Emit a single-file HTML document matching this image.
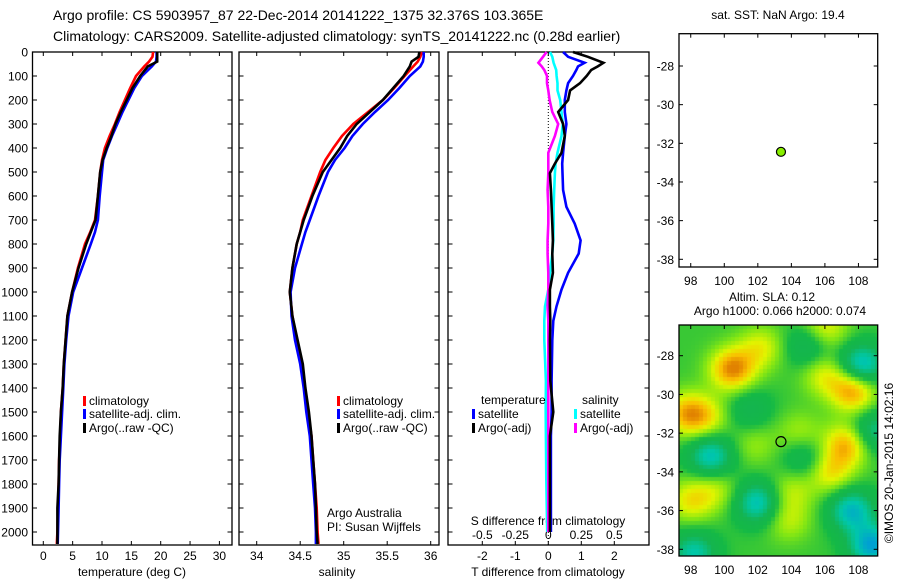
<!DOCTYPE html>
<html><head><meta charset="utf-8">
<style>
html,body{margin:0;padding:0;background:#fff;}
#wrap{position:relative;width:900px;height:580px;overflow:hidden;font-family:"Liberation Sans",sans-serif;}
svg text{font-family:"Liberation Sans",sans-serif;fill:#000;}
#map2{position:absolute;left:679px;top:325px;width:199px;height:231px;}
</style></head>
<body>
<div id="wrap">
<canvas id="map2" width="199" height="231"></canvas>
<svg id="chart" width="900" height="580" style="position:absolute;left:0;top:0"></svg>
</div>
<script>
// ---- data ----
const depthProf = [0,20,40,60,100,150,200,250,300,350,400,450,500,600,700,750,800,900,1000,1100,1200,1300,1400,1500,1600,1700,1800,1900,2000,2050];
const tempClim = [18.7,18.6,18.0,17.2,15.8,14.8,13.9,13.0,12.2,11.3,10.5,10.0,9.7,9.3,8.8,8.0,7.1,5.9,4.9,4.1,3.8,3.5,3.3,3.0,2.9,2.7,2.6,2.5,2.4,2.3];
const tempSat = [19.3,19.3,19.2,18.5,16.8,15.5,14.5,13.5,12.6,11.7,10.9,10.2,10.0,9.6,9.3,8.8,8.1,6.6,5.1,4.3,3.9,3.6,3.4,3.2,3.0,2.8,2.7,2.6,2.5,2.45];
const tempArgo = [19.4,19.4,19.4,17.8,16.5,15.2,14.2,13.2,12.3,11.6,10.8,10.1,9.7,9.3,8.9,8.1,7.3,6.0,4.9,4.1,3.8,3.5,3.3,3.0,2.8,2.7,2.6,2.4,2.4,2.4];
const salClim = [35.9,35.88,35.85,35.8,35.7,35.58,35.45,35.28,35.11,34.98,34.88,34.79,34.73,34.63,34.53,34.5,34.46,34.41,34.38,34.41,34.46,34.52,34.555,34.59,34.63,34.65,34.67,34.69,34.70,34.71];
const salSat = [35.92,35.92,35.91,35.88,35.76,35.64,35.51,35.36,35.22,35.1,35.01,34.9,34.82,34.71,34.61,34.56,34.52,34.44,34.39,34.40,34.44,34.50,34.54,34.57,34.61,34.63,34.65,34.67,34.68,34.68];
const salArgo = [35.87,35.86,35.78,35.76,35.69,35.57,35.45,35.3,35.15,35.04,34.96,34.86,34.76,34.64,34.54,34.5,34.46,34.41,34.38,34.41,34.47,34.53,34.56,34.6,34.63,34.65,34.67,34.68,34.69,34.7];
const diffDepth = [0,20,45,60,75,100,130,160,200,250,300,350,420,465,505,575,645,715,785,840,920,990,1060,1120,1200,1370,1500,1600,1780,2000];
const dTsat = [0.45,0.6,1.1,0.9,0.85,0.75,0.6,0.55,0.5,0.5,0.55,0.5,0.45,0.42,0.43,0.45,0.55,0.8,0.98,0.92,0.6,0.4,0.25,0.15,0.12,0.1,0.1,0.08,0.08,0.08];
const dTargo = [0.75,1.2,1.67,1.5,1.3,1.16,0.96,0.66,0.6,0.3,0.45,0.5,0.4,0.2,0.05,0.08,0.1,0.12,0.14,0.12,0.14,0.05,0.05,0.06,0.05,0.06,0.15,0.05,0.05,0.05];
const dSsat = [0.013,0.03,0.04,0.05,0.06,0.063,0.07,0.07,0.09,0.1,0.11,0.1,0.07,0.055,0.05,0.045,0.04,0.04,0.038,0.03,0.013,0.0,-0.025,-0.03,-0.03,-0.018,-0.02,-0.018,-0.015,-0.008];
const dSargo = [-0.013,-0.04,-0.075,-0.05,-0.03,-0.01,-0.01,0.0,0.01,0.03,0.075,0.05,0.0,0.0,0.0,-0.005,0.0,0.0,-0.005,-0.005,0.0,0.0,-0.005,0.0,0.0,0.0,0.0,0.0,0.0,0.0];
const depthTicks = [0,100,200,300,400,500,600,700,800,900,1000,1100,1200,1300,1400,1500,1600,1700,1800,1900,2000];
const tempTicks = [0,5,10,15,20,25,30];
const salTicks = [34,34.5,35,35.5,36];
const dTTicks = [-2,-1,0,1,2];
const dSTicks = [-0.5,-0.25,0,0.25,0.5];
const dSTickLabels = ["-0.5","-0.25","0","0.25","0.5"];
const latTicks = [-28,-30,-32,-34,-36,-38];
const lonTicks = [98,100,102,104,106,108];
const floatLon = [103.38];
const floatLat = [-32.44];
const slaLon = [100.5,102.2,107.7,106.0,97.8,99.0,107.3,106.3,106.0,98.0,99.5,103.8,104.5,104.0,108.2,99.2,102.0,107.6,108.8,98.2,108.9,105.0,101.5,104.8,101.8];
const slaLat = [-28.7,-27.6,-29.8,-29.0,-31.0,-31.2,-32.6,-34.0,-26.6,-35.5,-34.9,-36.5,-32.0,-35.0,-28.5,-33.2,-35.6,-36.0,-37.8,-38.2,-31.9,-27.5,-30.8,-33.3,-32.6];
const slaAmp = [0.9,0.45,0.85,0.45,0.7,0.4,0.75,0.55,0.5,0.5,0.35,0.35,0.3,0.35,-0.9,-0.8,-0.8,-0.85,-1.0,-0.7,-0.6,-0.45,-0.35,-0.4,0.25];

// ---- scales ----
const yD = d => 52 + d*0.24;
const xT = t => 43.3 + t*5.87;
const xS = s => 256.7 + (s-34)*87;
const xdT = v => 548.3 + v*33;
const xdS = v => 548.3 + v*132;
const mLon = v => 679 + (v-97.3)*16.77;
const mLat1 = v => 66 + (-28 - v)*19.33;
const mLat2 = v => 355.7 + (-28 - v)*19.36;

const NS='http://www.w3.org/2000/svg';
const svg=document.getElementById('chart');
function el(tag,attrs,parent){const e=document.createElementNS(NS,tag);for(const k in attrs)e.setAttribute(k,attrs[k]);(parent||svg).appendChild(e);return e;}
function txt(x,y,s,size,anchor,name){const t=el('text',{x:x,y:y,'font-size':size,'text-anchor':anchor||'start'});t.textContent=s;


return t;}
function frame(x0,y0,x1,y1,name){const r=el('rect',{x:x0,y:y0,width:x1-x0,height:y1-y0,fill:'none',stroke:'#000','stroke-width':1.3});

}
function line(x1,y1,x2,y2,name){const l=el('line',{x1:x1,y1:y1,x2:x2,y2:y2,stroke:'#000','stroke-width':1});

}
function series(xs,ds,xf,color,name,w){
  let pts=[];for(let i=0;i<xs.length;i++){pts.push(xf(xs[i]).toFixed(1)+','+yD(ds[i]).toFixed(1));}
  const p=el('polyline',{points:pts.join(' '),fill:'none',stroke:color,'stroke-width':w||2.6,'stroke-linejoin':'miter'});
  
  
}

// titles
txt(53,20,'Argo profile: CS 5903957_87 22-Dec-2014 20141222_1375 32.376S 103.365E',14,'start','title-line-1');
txt(53,41,'Climatology: CARS2009. Satellite-adjusted climatology: synTS_20141222.nc (0.28d earlier)',14,'start','title-line-2');

const Y0=52,Y1=545;
frame(32.5,Y0,232,Y1,'temperature-panel-frame');
frame(239,Y0,439,Y1,'salinity-panel-frame');
frame(448,Y0,649,Y1,'difference-panel-frame');
depthTicks.forEach(d=>{const y=yD(d);
  txt(28,y+4.5,String(d),12,'end','depth-tick-label');
  line(32.5,y,37,y,'depth-tick');line(227.5,y,232,y,'depth-tick');
  line(239,y,243.5,y,'depth-tick');line(434.5,y,439,y,'depth-tick');
  line(448,y,452.5,y,'depth-tick');line(644.5,y,649,y,'depth-tick');
});
tempTicks.forEach(t=>{const x=xT(t);line(x,Y0,x,Y0+4,'temp-tick');line(x,Y1,x,Y1-4,'temp-tick');txt(x,560,String(t),12,'middle','temp-tick-label');});
txt(132,576,'temperature (deg C)',12,'middle','temperature-axis-title');
salTicks.forEach(s=>{const x=xS(s);line(x,Y0,x,Y0+4,'sal-tick');line(x,Y1,x,Y1-4,'sal-tick');txt(x,560,String(s),12,'middle','sal-tick-label');});
txt(337,576,'salinity',12,'middle','salinity-axis-title');
dTTicks.forEach(v=>{const x=xdT(v);line(x,Y0,x,Y0+4,'dT-tick');line(x,Y1,x,Y1-4,'dT-tick');txt(x,560,String(v),12,'middle','dT-tick-label');});
txt(548,576,'T difference from climatology',12,'middle','t-difference-axis-title');
dSTicks.forEach((v,i)=>{const x=xdS(v);txt(x,539,dSTickLabels[i],12,'middle','dS-tick-label');});
txt(548,525,'S difference from climatology',12,'middle','s-difference-axis-title');

const zl=el('line',{x1:xdT(0),y1:Y0,x2:xdT(0),y2:Y1,stroke:'#000','stroke-width':1,'stroke-dasharray':'1,2'});



series(tempClim,depthProf,xT,'#ff0000','temp-climatology-line');
series(tempSat,depthProf,xT,'#0000ff','temp-satellite-line');
series(tempArgo,depthProf,xT,'#000000','temp-argo-line');
series(salClim,depthProf,xS,'#ff0000','sal-climatology-line');
series(salSat,depthProf,xS,'#0000ff','sal-satellite-line');
series(salArgo,depthProf,xS,'#000000','sal-argo-line');
series(dSsat,diffDepth,xdS,'#00ffff','dS-satellite-line');
series(dSargo,diffDepth,xdS,'#ff00ff','dS-argo-line');
series(dTsat,diffDepth,xdT,'#0000ff','dT-satellite-line');
series(dTargo,diffDepth,xdT,'#000000','dT-argo-line');

function legEntry(x,y,color,label,name){const r=el('rect',{x:x,y:y-9,width:3,height:10,fill:color});


txt(x+6,y,label,12,'start',name+'-label');}
legEntry(83,405,'#ff0000','climatology','legend-temp-climatology');
legEntry(83,418,'#0000ff','satellite-adj. clim.','legend-temp-satellite');
legEntry(83,432,'#000000','Argo(..raw -QC)','legend-temp-argo');
legEntry(337,405,'#ff0000','climatology','legend-sal-climatology');
legEntry(337,418,'#0000ff','satellite-adj. clim.','legend-sal-satellite');
legEntry(337,432,'#000000','Argo(..raw -QC)','legend-sal-argo');
txt(481,404,'temperature',12,'start','legend-temperature-heading');
legEntry(472,418,'#0000ff','satellite','legend-dT-satellite');
legEntry(472,432,'#000000','Argo(-adj)','legend-dT-argo');
txt(582,404,'salinity',12,'start','legend-salinity-heading');
legEntry(574,418,'#00ffff','satellite','legend-dS-satellite');
legEntry(574,432,'#ff00ff','Argo(-adj)','legend-dS-argo');
txt(327,517,'Argo Australia',12,'start','institution-label');
txt(327,531,'PI: Susan Wijffels',12,'start','pi-label');

txt(778,19,'sat. SST: NaN Argo: 19.4',12,'middle','sst-map-title');
frame(679,33.7,877.7,267,'sst-map-frame');
frame(679,325,877.7,556,'sla-map-frame');
latTicks.forEach(v=>{
  let y=mLat1(v);txt(674,y+4.5,String(v),12,'end','lat-tick-label');line(679,y,683,y,'lat-tick');line(873.7,y,877.7,y,'lat-tick');
  y=mLat2(v);txt(674,y+4.5,String(v),12,'end','lat-tick-label');line(679,y,683,y,'lat-tick');line(873.7,y,877.7,y,'lat-tick');
});
lonTicks.forEach(v=>{const x=mLon(v);
  txt(x,285,String(v),12,'middle','lon-tick-label');line(x,33.7,x,37.7,'lon-tick');line(x,267,x,263,'lon-tick');
  txt(x,574,String(v),12,'middle','lon-tick-label');line(x,325,x,329,'lon-tick');
});
txt(772,301,'Altim. SLA: 0.12',12,'middle','altim-sla-label');
txt(780,315,'Argo h1000: 0.066 h2000: 0.074',12,'middle','argo-height-label');
const c1=el('circle',{cx:mLon(floatLon[0]),cy:mLat1(floatLat[0]),r:4.5,fill:'#88ee00',stroke:'#000','stroke-width':1.2});


const c2=el('circle',{cx:mLon(floatLon[0]),cy:mLat2(floatLat[0]),r:5,fill:'none',stroke:'#000','stroke-width':1.2});


const cr=el('text',{x:0,y:0,'font-size':12,'text-anchor':'middle',transform:'translate(893,463) rotate(-90)'});
cr.textContent='©IMOS 20-Jan-2015 14:02:16';



const cv=document.getElementById('map2');const ctx=cv.getContext('2d');
const stops=[[-1,[0,150,220]],[-0.6,[0,200,170]],[-0.25,[20,180,80]],[0,[20,185,70]],[0.3,[130,230,20]],[0.55,[225,245,0]],[0.8,[250,190,0]],[1.0,[225,130,0]]];
function cmap(v){if(v<=stops[0][0])return stops[0][1];for(let i=1;i<stops.length;i++){if(v<=stops[i][0]){const a=stops[i-1],b=stops[i];const f=(v-a[0])/(b[0]-a[0]);return a[1].map((c,k)=>Math.round(c+(b[1][k]-c)*f));}}return stops[stops.length-1][1];}
const cell=4;
for(let py=0;py<231;py+=cell){for(let px=0;px<199;px+=cell){
  const lon=97.3+(px+cell/2)/16.77, lat=-28-((325+py+cell/2)-355.7)/19.36;
  let v=0.1;
  for(let i=0;i<slaLon.length;i++){const dx=(lon-slaLon[i])/1.35,dy=(lat-slaLat[i])/1.1;v+=slaAmp[i]*Math.exp(-(dx*dx+dy*dy));}
  const c=cmap(v);ctx.fillStyle='rgb('+c.join(',')+')';ctx.fillRect(px,py,cell,cell);
}}
</script>
</body></html>
